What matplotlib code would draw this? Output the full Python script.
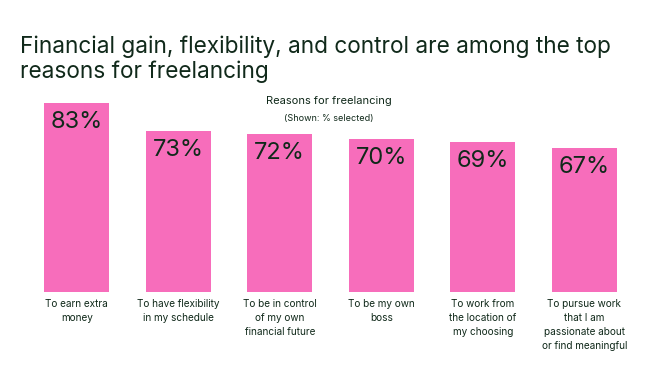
import matplotlib.pyplot as plt

plt.rcParams['font.family'] = ['Inter', 'DejaVu Sans']

reasons = [
    "To earn extra\nmoney",
    "To have flexibility\nin my schedule",
    "To be in control\nof my own\nfinancial future",
    "To be my own\nboss",
    "To work from\nthe location of\nmy choosing",
    "To pursue work\nthat I am\npassionate about\nor find meaningful",
]
pct = [83, 73, 72, 70, 69, 67]

pink = "#f76dbb"
ink = "#10291a"

fig = plt.figure(figsize=(6.56, 3.84), dpi=100)
# axes box: x 26..635 px, y 55..292 px (from top)
ax = fig.add_axes([26 / 656, 92 / 384, 609 / 656, 237 / 384])

x = list(range(len(pct)))
ax.bar(x, pct, width=0.64, color=pink)
ax.set_xlim(-0.5, 5.5)
ax.set_ylim(15.6, 100)
ax.axis("off")

for xi, v in zip(x, pct):
    ax.annotate(f"{v}%", xy=(xi, v), xytext=(0, -8), textcoords="offset pixels",
                ha="center", va="top", fontsize=17, color=ink)
    ax.annotate(reasons[xi], xy=(xi, 0), xycoords=("data", "axes fraction"),
                xytext=(0, -7), textcoords="offset pixels",
                ha="center", va="top", fontsize=7.2, color=ink, linespacing=1.5)

fig.text(20 / 656, 1 - 36 / 384,
         "Financial gain, flexibility, and control are among the top\nreasons for freelancing",
         ha="left", va="top", fontsize=16.3, color=ink, linespacing=1.12)
fig.text(329 / 656, 1 - 101 / 384, "Reasons for freelancing", ha="center",
         va="center", fontsize=8, color=ink)
fig.text(329 / 656, 1 - 118 / 384, "(Shown: % selected)", ha="center",
         va="center", fontsize=6.5, color=ink)

fig.savefig("out.png", dpi=100)
